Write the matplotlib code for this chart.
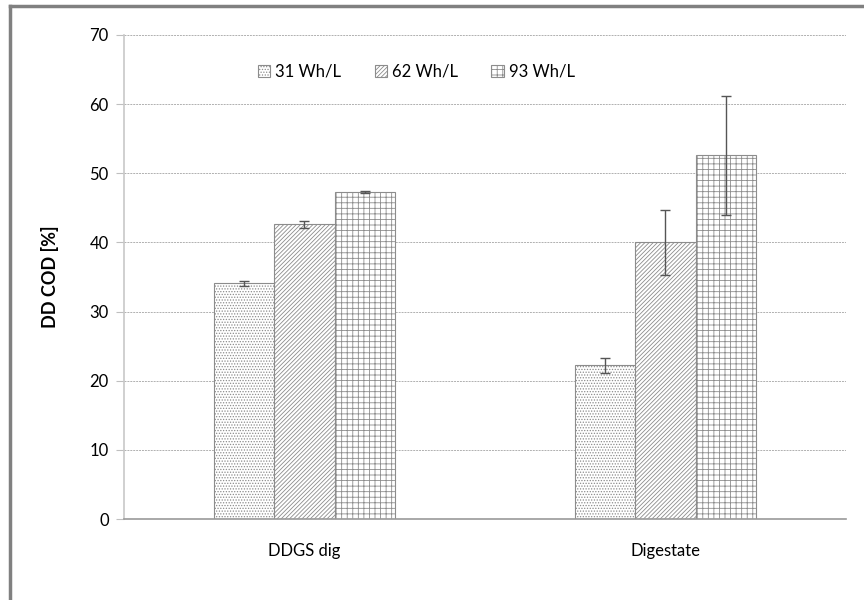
import numpy as np
import matplotlib.pyplot as plt
from matplotlib.lines import Line2D

plt.rcParams['font.family'] = ['Lato', 'DejaVu Sans']
plt.rcParams['hatch.linewidth'] = 0.6

# data
categories = ["DDGS dig", "Digestate"]
series = ["31 Wh/L", "62 Wh/L", "93 Wh/L"]
values = [
    [34.1, 22.2],
    [42.6, 40.0],
    [47.25, 52.6],
]
errors = [
    [0.35, 1.15],
    [0.5, 4.7],
    [0.12, 8.6],
]
hatches = ["......", "////////", "+++"]

fig = plt.figure(figsize=(8.64, 6), dpi=100)
ax = fig.add_axes([0.1435, 0.135, 0.8356, 0.8067])

x = np.arange(len(categories))
w = 0.1676
for i, name in enumerate(series):
    ax.bar(x + (i - 1) * w, values[i], w, color="white", edgecolor="#8c8c8c",
           hatch=hatches[i], linewidth=0.8, label=name, zorder=2)
    ax.errorbar(x + (i - 1) * w, values[i], yerr=errors[i], fmt="none",
                ecolor="#555555", elinewidth=1, capsize=3.5, capthick=1, zorder=3)

ax.set_xlim(-0.5, 1.5)
ax.set_ylim(0, 70)
ax.set_yticks(range(0, 71, 10))
ax.set_xticks(x)
ax.set_xticklabels(categories)
ax.tick_params(axis="x", length=0, pad=17, labelsize=12)
ax.tick_params(axis="y", length=6, color="#bfbfbf", labelsize=12, pad=5)

ax.yaxis.grid(True, linestyle=(0, (2, 1)), color="#b0b0b0", linewidth=0.7, zorder=0)
ax.set_axisbelow(True)
for s in ["top", "right"]:
    ax.spines[s].set_visible(False)
ax.spines["left"].set_color("#c8c8c8")
ax.spines["left"].set_linewidth(1.2)
ax.spines["bottom"].set_color("#9a9a9a")
ax.spines["bottom"].set_linewidth(1.2)

ax.set_ylabel("DD COD [%]", fontweight="bold", fontsize=13, labelpad=22)

leg = ax.legend(loc="center", bbox_to_anchor=(0.405, 0.924), ncol=3, frameon=False,
                fontsize=12, handlelength=0.75, handleheight=0.75, columnspacing=2.0,
                handletextpad=0.3)

# outer border (left and top visible)
fig.add_artist(Line2D([0.012, 0.012], [0, 0.99], color="#808080", linewidth=2.5))
fig.add_artist(Line2D([0.012, 1.0], [0.99, 0.99], color="#808080", linewidth=2.5))

fig.savefig("out.png", dpi=100)
